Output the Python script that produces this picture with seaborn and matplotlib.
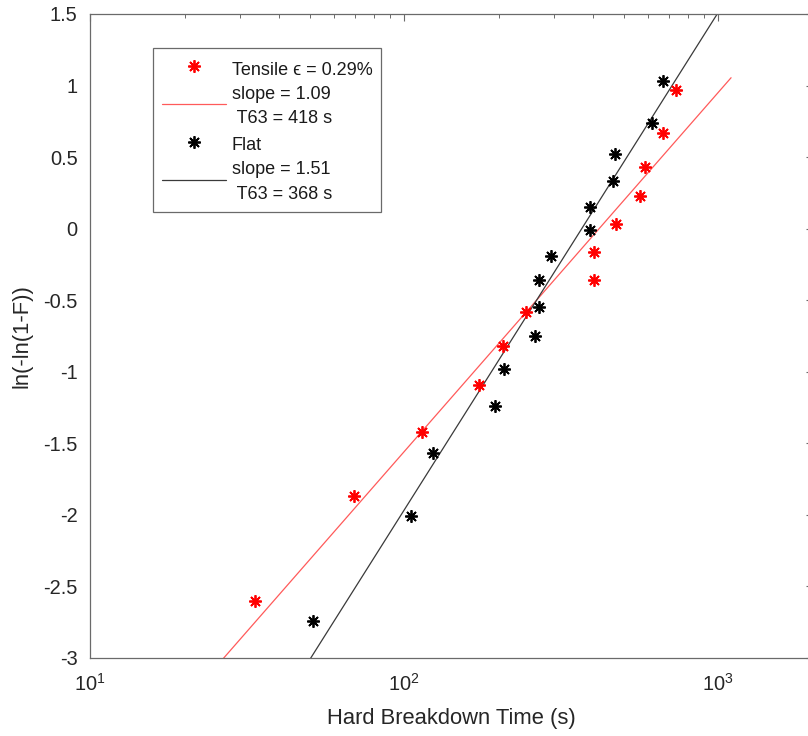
import numpy as np
import pandas as pd
import matplotlib
matplotlib.use("Agg")
import matplotlib.pyplot as plt
from matplotlib.lines import Line2D
import seaborn as sns

# Breakdown times (s) and Weibull plotting positions ln(-ln(1-F))
tensile_t = [33.5, 69.2, 114.4, 173.2, 207.1, 244.6, 403.8, 403.8,
             474.5, 564.4, 584.2, 669.6, 734.9]
tensile_y = [-2.60, -1.87, -1.42, -1.09, -0.82, -0.58, -0.36, -0.16,
             0.03, 0.23, 0.43, 0.67, 0.97]

flat_t = [51.2, 105.3, 123.4, 194.4, 207.7, 260.8, 269.2, 269.6,
          293.9, 390.3, 391.4, 464.1, 469.9, 617.8, 666.6]
flat_y = [-2.74, -2.01, -1.57, -1.24, -0.98, -0.75, -0.55, -0.36,
          -0.19, -0.01, 0.15, 0.33, 0.52, 0.74, 1.03]

# Weibull fit parameters (shape, characteristic life)
tensile_slope, tensile_t63 = 1.09, 418
flat_slope, flat_t63 = 1.51, 368
fit_range = (10, 1100)

y_ticks = [-3, -2.5, -2, -1.5, -1, -0.5, 0, 0.5, 1, 1.5]
y_tick_labels = ["-3", "-2.5", "-2", "-1.5", "-1", "-0.5", "0", "0.5", "1", "1.5"]

sns.set_theme(style="white")
plt.rcParams["font.family"] = ["Liberation Sans", "DejaVu Sans"]
plt.rcParams["axes.unicode_minus"] = False

fig = plt.figure(figsize=(8.08, 7.36), dpi=100)
ax = fig.add_axes([0.11139, 0.10598, 0.89431, 0.875])

t_fit = np.geomspace(*fit_range, 200)
fits = pd.DataFrame({
    "t": t_fit,
    "tensile": tensile_slope * (np.log(t_fit) - np.log(tensile_t63)),
    "flat": flat_slope * (np.log(t_fit) - np.log(flat_t63)),
})

RED, RED_FIT = "#ff0000", "#ff5a5a"
BLACK, BLACK_FIT = "#000000", "#3a3a3a"
asterisk = (8, 2, 0)
mk = dict(linestyle="", marker=asterisk, markersize=9, markeredgewidth=1.3)

sns.lineplot(x=tensile_t, y=tensile_y, ax=ax, estimator=None, sort=False,
             color=RED, markeredgecolor=RED, markerfacecolor=RED, zorder=3, **mk)
sns.lineplot(data=fits, x="t", y="tensile", ax=ax, estimator=None, sort=False,
             color=RED_FIT, linewidth=0.9, zorder=2)
sns.lineplot(x=flat_t, y=flat_y, ax=ax, estimator=None, sort=False,
             color=BLACK, markeredgecolor=BLACK, markerfacecolor=BLACK, zorder=3, **mk)
sns.lineplot(data=fits, x="t", y="flat", ax=ax, estimator=None, sort=False,
             color=BLACK_FIT, linewidth=0.9, zorder=2)

ax.set_xscale("log")
ax.set_xlim(10, 2000)
ax.set_ylim(-3, 1.5)
ax.set_yticks(y_ticks)
ax.set_yticklabels(y_tick_labels)

ax.set_xlabel("Hard Breakdown Time (s)", fontsize=15.8, color="#262626", labelpad=9.5)
ax.set_ylabel("ln(-ln(1-F))", fontsize=15.8, color="#262626", labelpad=8)

axis_color = "#6a6a6a"
for sp in ax.spines.values():
    sp.set_visible(True)
    sp.set_color(axis_color)
    sp.set_linewidth(0.9)
ax.tick_params(which="both", direction="in", top=True, right=True,
               color=axis_color, labelcolor="#262626")
ax.tick_params(which="major", length=5, width=0.8, labelsize=14.4)
ax.tick_params(axis="x", which="major", pad=11)
ax.tick_params(axis="y", which="major", pad=9)
ax.tick_params(which="minor", length=2.6, width=0.7)

handles = [
    Line2D([], [], color=RED, **mk),
    Line2D([], [], color=RED_FIT, linewidth=0.9),
    Line2D([], [], color=BLACK, **mk),
    Line2D([], [], color=BLACK_FIT, linewidth=0.9),
]
labels = [
    "Tensile \u03f5 = 0.29%",
    "slope = 1.09\n T63 = 418 s",
    "Flat",
    "slope = 1.51\n T63 = 368 s",
]
leg = ax.legend(handles, labels, loc="upper left",
                bbox_to_anchor=(0.0872, 0.947), borderaxespad=0,
                fontsize=13, frameon=True, fancybox=False, framealpha=1,
                edgecolor=axis_color, borderpad=0.5, handlelength=3.55,
                handleheight=1.6, handletextpad=0.3, labelspacing=0.3)
leg.get_frame().set_linewidth(0.9)
for txt in leg.get_texts():
    txt.set_linespacing(1.59)
    txt.set_color("#1a1a1a")

fig.savefig("out.png", dpi=100, facecolor="white")
